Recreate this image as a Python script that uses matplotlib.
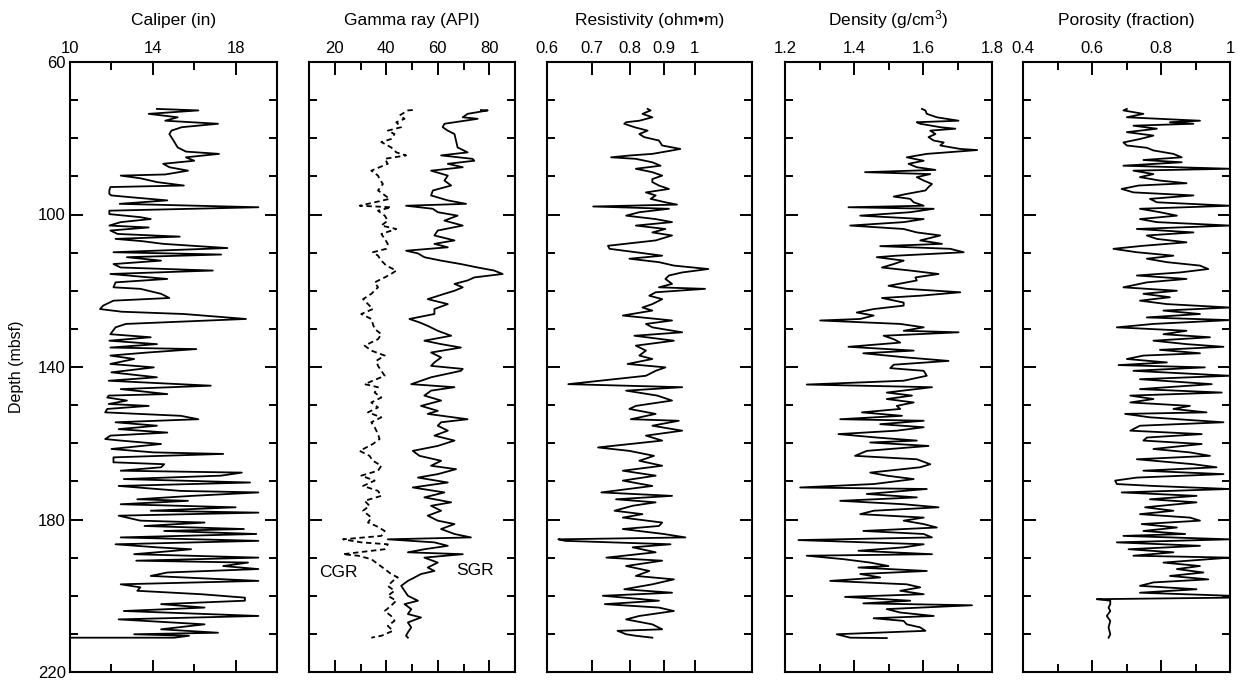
import matplotlib
matplotlib.use("Agg")
import matplotlib.pyplot as plt
from matplotlib.ticker import FixedLocator, NullLocator, FixedFormatter

plt.rcParams["font.family"] = ["Liberation Sans", "DejaVu Sans"]
plt.rcParams["mathtext.fontset"] = "custom"
plt.rcParams["mathtext.rm"] = "Liberation Sans"
plt.rcParams["mathtext.it"] = "Liberation Sans:italic"

# ---------------- data (depth in mbsf) ----------------
cal_depth = [72.3, 72.7, 73.6, 74.5, 75.4, 76.2, 77.1, 78.0, 78.9, 80.6, 82.4, 83.5, 84.1, 85.0, 85.9,
             86.7, 87.6, 88.5, 89.5, 89.8, 90.5, 91.5, 92.4, 92.8, 93.7, 94.6, 95.0, 95.5, 96.3, 97.2,
             98.1, 99.0, 99.9, 100.7, 101.2, 102.0, 102.9, 103.4, 104.2, 105.1, 105.8, 106.4, 107.0,
             107.7, 108.8, 109.9, 110.5, 111.2, 112.1, 113.0, 113.9, 114.7, 115.6, 116.9, 117.8, 119.1,
             119.5, 120.8, 121.9, 122.6, 123.9, 124.8, 125.5, 126.1, 127.4, 128.7, 129.6, 131.4, 132.2,
             133.1, 134.0, 134.9, 135.3, 136.2, 137.0, 137.9, 139.2, 140.1, 141.4, 142.7, 143.6, 144.9,
             145.8, 147.1, 147.5, 148.0, 148.8, 149.7, 150.2, 151.0, 151.9, 152.8, 153.7, 154.5, 155.4,
             156.3, 157.2, 158.0, 158.9, 159.3, 160.2, 161.5, 162.4, 162.8, 163.7, 165.0, 165.5, 166.3,
             167.2, 167.7, 168.5, 169.4, 170.3, 171.2, 172.5, 172.9, 173.8, 174.7, 175.1, 176.0, 176.8,
             177.7, 178.2, 179.0, 179.5, 180.3, 180.8, 181.7, 182.5, 183.0, 183.8, 184.7, 185.6, 186.5,
             187.3, 187.8, 188.2, 189.1, 190.0, 190.8, 191.3, 192.2, 193.0, 193.9, 194.8, 196.1, 197.0,
             197.8, 198.7, 199.6, 200.5, 201.3, 202.2, 203.1, 204.0, 205.3, 206.2, 207.5, 208.8, 209.7,
             210.1, 210.5, 211.0, 211.0]
cal_in = [14.2, 16.2, 13.8, 15.2, 14.6, 17.15, 15.4, 14.9, 14.8, 15.0, 15.2, 15.6, 17.2, 15.6, 16.0,
          14.5, 14.8, 15.7, 14.6, 12.45, 13.4, 14.2, 15.5, 11.95, 11.9, 11.9, 12.0, 13.0, 14.7, 12.4,
          19.1, 11.9, 11.9, 13.4, 13.9, 12.45, 11.9, 13.8, 11.95, 12.3, 15.3, 12.2, 13.5,
          14.5, 17.6, 12.1, 17.3, 12.75, 14.4, 12.1, 12.45, 16.9, 11.95, 14.7, 12.2, 12.1,
          13.4, 14.4, 14.8, 12.1, 11.6, 11.45, 12.5, 15.5, 18.5, 12.7, 12.2, 11.95, 13.9,
          11.9, 14.2, 11.95, 16.1, 13.75, 11.95, 13.1, 11.95, 14.05, 12.0, 14.2, 11.87, 16.8,
          12.45, 14.7, 11.87, 11.8, 12.75, 11.87, 13.8, 11.8, 11.7, 15.35, 16.2, 12.2, 14.2,
          12.35, 14.7, 11.95, 11.7, 12.45, 14.4, 12.0, 14.05, 17.4, 12.1, 12.1, 14.55, 14.4,
          12.45, 18.3, 17.3, 12.6, 18.7, 12.35, 15.35, 19.1, 15.9, 13.25, 15.7, 12.45, 18.0,
          13.9, 19.1, 12.35, 12.75, 13.4, 16.5, 13.6, 18.4, 14.55, 19.0, 12.45, 19.1, 12.2,
          14.2, 15.85, 15.05, 13.1, 19.1, 13.2, 18.6, 17.4, 19.1, 14.7, 13.9, 19.1, 12.45,
          13.4, 13.25, 16.35, 18.45, 18.45, 14.4, 16.5, 12.6, 19.1, 12.35, 16.5, 14.4, 17.15,
          13.1, 15.75, 15.05, 9.0]

sgr_depth = [72.6, 72.7, 73.6, 74.5, 74.9, 76.2, 77.1, 78.0, 78.9, 80.6, 82.4, 83.7, 84.5, 85.4, 85.9,
             86.7, 87.6, 88.5, 89.8, 91.1, 92.4, 93.7, 95.0, 96.3, 97.2, 97.7, 98.5, 99.4, 100.3, 101.6,
             102.9, 104.2, 105.5, 106.8, 107.7, 108.6, 109.5, 110.2, 111.2, 112.1, 113.0, 113.9, 114.7,
             115.6, 116.5, 117.3, 118.2, 119.1, 120.0, 120.8, 122.2, 123.5, 124.8, 126.1, 127.4, 128.3,
             129.2, 130.5, 131.8, 133.1, 134.0, 134.9, 136.2, 137.5, 138.8, 139.7, 140.5, 141.0, 142.7,
             144.5, 145.3, 146.2, 147.5, 148.8, 150.2, 151.5, 152.3, 153.7, 154.5, 155.4, 156.7, 158.0,
             159.3, 160.7, 162.0, 163.3, 164.6, 165.9, 166.8, 168.1, 169.0, 170.3, 171.6, 172.9, 174.2,
             175.5, 176.4, 177.7, 179.0, 180.3, 181.2, 182.5, 183.8, 184.7, 185.2, 186.0, 186.9, 187.8,
             188.6, 189.1, 190.0, 191.3, 192.6, 193.5, 194.3, 195.2, 196.1, 197.4, 198.7, 200.0, 201.3,
             202.2, 203.5, 204.8, 205.7, 207.0, 208.3, 209.6, 210.5, 211.0]
sgr_api = [76.8, 79.4, 71.6, 69.7, 75.5, 62.6, 61.9, 63.9, 66.5, 67.1, 67.7, 71.6, 61.3, 73.5, 74.2,
           63.9, 69.7, 57.4, 63.9, 62.6, 65.2, 58.1, 57.4, 63.9, 71.0, 47.7, 58.1, 60.0, 67.7, 62.6,
           69.7, 60.0, 58.7, 66.5, 58.7, 63.9, 47.7, 52.3, 54.8, 61.3, 69.0, 75.5, 81.9,
           85.2, 74.2, 71.6, 66.5, 69.7, 66.5, 62.6, 56.1, 63.9, 58.7, 58.7, 49.0, 52.9,
           56.1, 60.0, 65.2, 54.8, 61.3, 69.0, 57.4, 61.3, 58.7, 57.4, 69.7, 69.0, 57.4,
           49.7, 66.5, 57.4, 54.8, 61.3, 53.5, 60.0, 56.1, 71.6, 61.3, 60.0, 63.9, 58.7,
           66.5, 60.0, 50.3, 52.9, 61.3, 57.4, 67.1, 60.0, 52.3, 63.9, 50.3, 62.6, 54.8,
           65.2, 57.4, 61.3, 56.1, 60.0, 66.5, 61.3, 66.5, 72.9, 40.6, 58.7, 63.9, 54.8,
           48.4, 69.7, 54.8, 60.0, 56.1, 58.7, 53.5, 51.0, 48.4, 45.8, 47.1, 48.4, 52.3,
           47.1, 49.7, 48.4, 53.5, 48.4, 49.7, 48.4, 47.7, 48.4]

cgr_depth = [72.6, 72.7, 74.0, 74.9, 75.8, 77.1, 78.0, 78.9, 80.2, 81.0, 82.4, 83.7, 84.5, 85.4, 86.7,
             88.5, 89.8, 90.7, 92.0, 93.7, 94.6, 95.9, 97.7, 98.1, 99.0, 100.3, 101.6, 102.9, 103.8,
             105.1, 106.4, 107.7, 109.0, 109.9, 110.8, 112.1, 113.4, 114.7, 115.6, 116.5, 117.8, 119.1,
             120.8, 122.2, 123.5, 124.8, 126.1, 127.4, 128.7, 130.0, 131.4, 132.7, 134.4, 135.7, 137.0,
             138.4, 139.7, 141.0, 142.3, 144.5, 145.3, 146.7, 148.0, 149.3, 150.6, 151.9, 153.2, 154.5,
             155.8, 157.6, 158.9, 160.2, 162.0, 163.3, 164.6, 165.9, 167.2, 168.5, 169.8, 171.2, 172.5,
             173.8, 175.1, 176.4, 177.7, 179.5, 180.8, 181.7, 183.0, 184.3, 185.2, 186.0, 186.5, 187.8,
             189.1, 189.5, 190.4, 191.7, 193.0, 194.3, 195.2, 196.1, 197.4, 198.7, 200.0, 201.3, 202.6,
             204.0, 205.3, 206.6, 207.9, 209.2, 210.5, 211.0]
cgr_api = [50.3, 48.4, 45.2, 47.1, 43.9, 45.8, 40.6, 43.2, 41.9, 38.1, 41.9, 43.9, 47.7, 39.4, 40.6,
           34.2, 36.8, 37.4, 38.7, 36.8, 38.7, 41.3, 29.7, 41.9, 36.8, 39.4, 40.6, 38.1, 43.9,
           38.1, 39.4, 40.6, 40.0, 34.8, 36.8, 38.1, 40.0, 43.9, 41.9, 39.4, 35.5, 36.8,
           34.2, 31.0, 32.9, 34.8, 30.3, 34.2, 34.8, 35.5, 38.1, 36.8, 31.6, 34.2, 39.4,
           36.1, 36.8, 38.1, 39.4, 31.6, 36.8, 35.5, 38.1, 34.2, 36.8, 32.9, 38.1, 34.2,
           35.5, 36.8, 37.4, 34.8, 29.7, 33.5, 34.8, 38.1, 36.8, 30.3, 35.5, 31.0, 36.8,
           38.1, 31.6, 33.5, 31.0, 34.2, 32.9, 36.1, 39.4, 38.1, 23.2, 30.3, 40.6, 39.4,
           23.2, 29.0, 34.2, 36.8, 39.4, 41.9, 44.5, 42.6, 40.6, 43.2, 40.6, 43.9, 41.9,
           39.4, 41.9, 43.2, 40.6, 42.6, 38.1, 34.2]

res_depth = [72.3, 72.7, 73.6, 74.5, 75.4, 75.8, 76.2, 77.1, 78.0, 78.9, 79.7, 80.6, 81.9, 82.8, 83.2,
             84.1, 84.5, 85.0, 85.4, 86.3, 87.2, 88.0, 88.9, 89.8, 90.7, 91.5, 92.4, 93.3, 94.2, 95.0,
             95.9, 96.8, 97.4, 97.9, 98.5, 99.4, 100.3, 101.2, 102.0, 102.9, 103.8, 104.7, 105.5, 106.8,
             108.2, 109.0, 109.9, 110.8, 111.6, 112.5, 113.4, 114.3, 115.2, 116.0, 116.9, 118.2, 119.1,
             119.5, 120.4, 121.3, 122.2, 123.5, 124.4, 125.2, 126.5, 127.8, 128.7, 129.6, 130.9, 131.8,
             133.1, 134.4, 135.7, 137.0, 137.9, 139.2, 140.1, 141.0, 142.3, 144.5, 145.3, 146.2, 147.5,
             148.8, 150.2, 151.0, 152.3, 153.7, 154.1, 155.4, 156.7, 158.0, 159.3, 161.1, 162.0, 163.3,
             164.6, 165.9, 167.2, 168.5, 169.8, 171.2, 172.9, 173.8, 174.7, 175.5, 176.4, 177.7, 178.6,
             179.5, 180.8, 181.7, 182.5, 183.8, 184.7, 185.2, 185.6, 186.5, 187.3, 188.6, 190.0, 190.8,
             192.2, 193.5, 194.8, 195.7, 197.0, 198.3, 199.2, 200.0, 201.3, 202.2, 203.1, 204.0, 205.3,
             206.2, 207.5, 208.8, 209.2, 210.1, 210.5, 211.0]
res_ohmm = [0.850, 0.859, 0.835, 0.864, 0.826, 0.789, 0.784, 0.812, 0.850, 0.826, 0.840, 0.884, 0.894,
            0.952, 0.925, 0.864, 0.802, 0.749, 0.816, 0.864, 0.889, 0.816, 0.864, 0.894, 0.864, 0.864,
            0.884, 0.915, 0.845, 0.874, 0.859, 0.904, 0.941, 0.704, 0.915, 0.826, 0.789, 0.874, 0.925,
            0.816, 0.904, 0.864, 0.925, 0.874, 0.741, 0.745, 0.816, 0.894, 0.798, 0.884, 0.931, 1.049,
            0.958, 0.915, 0.904, 0.925, 0.884, 1.037, 0.874, 0.855, 0.894, 0.864, 0.835, 0.864, 0.780,
            0.925, 0.845, 0.864, 0.958, 0.812, 0.931, 0.816, 0.845, 0.826, 0.864, 0.793, 0.904, 0.874,
            0.845, 0.646, 0.958, 0.789, 0.879, 0.925, 0.816, 0.798, 0.874, 0.802, 0.947, 0.864, 0.958,
            0.845, 0.894, 0.716, 0.798, 0.869, 0.826, 0.894, 0.780, 0.874, 0.780, 0.864, 0.724, 0.925,
            0.762, 0.874, 0.807, 0.758, 0.835, 0.780, 0.894, 0.884, 0.780, 0.899, 0.969, 0.624, 0.639,
            0.920, 0.807, 0.874, 0.737, 0.894, 0.789, 0.855, 0.816, 0.931, 0.864, 0.784, 0.925, 0.728,
            0.884, 0.733, 0.884, 0.931, 0.826, 0.789, 0.864, 0.894, 0.766, 0.789, 0.816, 0.864]

den_depth = [72.3, 72.7, 73.6, 74.5, 75.4, 75.8, 76.2, 77.1, 77.5, 78.0, 78.9, 79.7, 80.6, 81.1, 81.9,
             82.8, 83.1, 84.1, 85.0, 85.9, 86.7, 87.6, 88.3, 88.9, 89.4, 90.2, 91.1, 92.0, 92.8, 93.7,
             94.6, 95.3, 95.9, 96.8, 97.7, 98.1, 98.5, 99.4, 100.3, 101.2, 102.0, 102.9, 103.8, 104.7,
             105.5, 106.8, 107.7, 108.3, 109.0, 109.9, 110.8, 111.2, 112.1, 113.0, 113.9, 114.7, 115.6,
             116.5, 117.3, 118.7, 119.5, 120.4, 121.3, 121.9, 123.1, 123.9, 124.8, 125.7, 126.5, 127.4,
             127.8, 128.7, 129.6, 130.5, 130.9, 131.8, 132.7, 133.6, 134.7, 135.7, 136.4, 137.5, 138.4,
             139.4, 140.3, 141.0, 142.3, 143.6, 144.6, 145.3, 146.7, 147.5, 148.4, 149.3, 150.2, 151.0,
             151.9, 152.8, 153.7, 154.1, 155.0, 155.8, 156.7, 157.6, 158.5, 159.3, 159.8, 160.7, 162.0,
             163.3, 164.2, 165.5, 166.3, 167.7, 168.5, 169.4, 170.7, 171.6, 172.0, 173.3, 174.2, 175.1,
             176.0, 176.8, 177.7, 178.6, 179.5, 180.3, 181.2, 182.1, 183.0, 183.8, 184.7, 185.4, 186.5,
             187.3, 188.2, 189.1, 189.5, 190.4, 191.3, 192.2, 192.6, 193.5, 194.3, 195.2, 196.1, 197.0,
             197.8, 198.7, 199.6, 200.3, 201.3, 202.0, 202.5, 203.5, 204.4, 205.3, 205.9, 206.6, 207.5,
             208.3, 209.2, 210.1, 211.0, 211.1]
den_gcc = [1.597, 1.607, 1.611, 1.640, 1.703, 1.582, 1.592, 1.650, 1.694, 1.621, 1.636, 1.616, 1.631,
           1.660, 1.650, 1.708, 1.757, 1.611, 1.553, 1.602, 1.558, 1.582, 1.636, 1.432, 1.621, 1.582,
           1.602, 1.626, 1.616, 1.607, 1.553, 1.515, 1.563, 1.573, 1.602, 1.384, 1.631, 1.563, 1.418,
           1.602, 1.544, 1.389, 1.544, 1.582, 1.650, 1.592, 1.655, 1.476, 1.679, 1.718, 1.524, 1.466,
           1.544, 1.515, 1.481, 1.563, 1.645, 1.578, 1.582, 1.500, 1.553, 1.708, 1.592, 1.481, 1.544,
           1.544, 1.457, 1.408, 1.457, 1.418, 1.302, 1.534, 1.602, 1.544, 1.703, 1.486, 1.515, 1.534,
           1.384, 1.573, 1.427, 1.553, 1.674, 1.515, 1.505, 1.602, 1.611, 1.544, 1.263, 1.626, 1.495,
           1.568, 1.495, 1.573, 1.524, 1.534, 1.423, 1.539, 1.360, 1.602, 1.476, 1.602, 1.524, 1.355,
           1.466, 1.582, 1.447, 1.616, 1.437, 1.403, 1.582, 1.621, 1.592, 1.447, 1.495, 1.573, 1.457,
           1.244, 1.611, 1.437, 1.582, 1.360, 1.544, 1.645, 1.457, 1.418, 1.602, 1.544, 1.602, 1.640,
           1.427, 1.602, 1.626, 1.239, 1.602, 1.544, 1.413, 1.626, 1.263, 1.369, 1.447, 1.500, 1.413,
           1.611, 1.418, 1.476, 1.331, 1.553, 1.592, 1.534, 1.602, 1.374, 1.563, 1.427, 1.742, 1.495,
           1.534, 1.631, 1.457, 1.544, 1.553, 1.592, 1.607, 1.350, 1.389, 1.495]

por_depth = [72.3, 72.7, 73.6, 74.5, 75.4, 75.8, 76.2, 76.7, 77.5, 78.4, 79.3, 80.2, 81.1, 81.9, 82.5,
             83.2, 84.1, 85.0, 85.7, 86.3, 87.2, 88.0, 88.5, 89.4, 90.2, 91.1, 91.8, 92.4, 93.3, 94.2,
             95.0, 95.9, 96.8, 97.7, 98.5, 99.4, 100.3, 101.2, 102.0, 102.9, 103.8, 104.7, 105.5, 106.4,
             107.3, 108.2, 109.0, 109.9, 110.8, 111.6, 112.5, 113.4, 114.3, 115.2, 116.0, 116.9, 117.8,
             119.1, 120.0, 120.8, 121.7, 122.6, 123.5, 124.4, 125.2, 126.1, 127.0, 127.7, 128.7, 129.6,
             130.5, 131.4, 132.2, 133.1, 134.0, 134.7, 135.5, 136.4, 137.0, 137.9, 138.8, 139.5, 140.1,
             141.0, 142.3, 143.2, 144.5, 145.8, 146.7, 147.5, 148.4, 149.3, 150.2, 151.0, 151.9, 152.3,
             153.2, 154.5, 155.4, 156.7, 157.6, 158.5, 159.3, 160.2, 161.5, 162.4, 163.3, 164.2, 165.5,
             166.3, 167.2, 168.1, 169.0, 169.8, 170.7, 171.2, 172.0, 172.9, 173.8, 174.7, 175.5, 176.8,
             177.7, 178.6, 179.5, 180.3, 181.2, 182.1, 183.0, 183.8, 184.3, 185.2, 186.0, 186.9, 187.8,
             188.6, 189.5, 190.0, 191.3, 192.2, 193.0, 193.9, 194.8, 195.7, 196.5, 197.4, 198.3, 199.2,
             200.0, 200.5, 200.9, 201.3, 202.2, 203.1, 204.0, 205.3, 206.6, 208.3, 210.1, 211.0]
por_frac = [0.701, 0.691, 0.749, 0.701, 0.913, 0.826, 0.894, 0.720, 0.788, 0.701, 0.778, 0.739, 0.691,
            0.701, 0.759, 0.778, 0.836, 0.860, 0.749, 0.860, 0.691, 1.0, 0.720, 0.778, 0.739, 0.797,
            0.874, 0.735, 0.686, 0.720, 0.894, 0.768, 0.788, 1.0, 0.739, 0.797, 0.846, 0.739, 0.788,
            1.0, 0.730, 0.894, 0.759, 0.788, 0.874, 0.749, 0.662, 0.730, 0.836, 0.759, 0.817, 0.913,
            0.937, 0.855, 0.730, 0.874, 0.759, 0.691, 0.846, 0.749, 0.826, 0.739, 0.817, 1.0, 0.807,
            0.913, 0.759, 1.0, 0.778, 0.672, 0.874, 0.807, 0.942, 0.778, 0.874, 0.981, 0.797, 0.913,
            0.749, 0.701, 0.817, 0.677, 0.927, 0.720, 1.0, 0.739, 0.947, 0.739, 0.976, 0.711, 0.778,
            0.711, 0.884, 0.836, 0.932, 0.696, 0.768, 0.981, 0.739, 0.711, 0.918, 0.759, 0.749, 0.918,
            0.778, 0.884, 0.942, 0.730, 0.894, 0.961, 0.749, 0.981, 0.730, 0.667, 0.672, 0.778, 1.0,
            0.686, 0.903, 0.768, 0.903, 0.754, 0.836, 0.739, 0.884, 0.913, 0.744, 0.846, 0.749, 0.870,
            0.691, 1.0, 0.672, 0.913, 0.706, 0.836, 0.720, 1.0, 0.807, 0.913, 0.846, 0.923, 0.826,
            0.937, 0.778, 0.739, 0.903, 0.739, 1.0, 1.0, 0.614, 0.653, 0.653, 0.648, 0.653, 0.643,
            0.653, 0.648, 0.653, 0.648]

titles = ["Caliper (in)", "Gamma ray (API)", "Resistivity (ohm\u2022m)",
          r"Density (g/cm$^{3}$)", "Porosity (fraction)"]
depth_ticks = [60, 100, 140, 180, 220]

# ---------------- figure ----------------
W, H = 1241, 682
fig = plt.figure(figsize=(W / 100, H / 100), dpi=100)
top_px, bot_px = 62, 672
lefts = [70, 309, 547, 785, 1023]
widths = [207, 206, 205, 207, 207]

axes = []
for l, w in zip(lefts, widths):
    ax = fig.add_axes([l / W, 1 - bot_px / H, w / W, (bot_px - top_px) / H])
    axes.append(ax)

lw_line = 1.3
ax_cal, ax_gr, ax_res, ax_den, ax_por = axes

ax_cal.plot(cal_in, cal_depth, color="black", lw=lw_line)
ax_gr.plot(sgr_api, sgr_depth, color="black", lw=lw_line)
ax_gr.plot(cgr_api, cgr_depth, color="black", lw=lw_line, linestyle=(0, (3, 2)))
ax_res.plot(res_ohmm, res_depth, color="black", lw=lw_line)
ax_den.plot(den_gcc, den_depth, color="black", lw=lw_line)
ax_por.plot(por_frac, por_depth, color="black", lw=lw_line)

ax_gr.text(21.5, 194, "CGR", fontsize=12.5, ha="center", va="center")
ax_gr.text(74.5, 193.5, "SGR", fontsize=12.5, ha="center", va="center")

# x-axis settings
ax_cal.set_xlim(10, 20)
ax_cal.xaxis.set_major_locator(FixedLocator([10, 14, 18]))
ax_cal.xaxis.set_minor_locator(FixedLocator([12, 16]))
ax_cal.xaxis.set_major_formatter(FixedFormatter(["10", "14", "18"]))

ax_gr.set_xlim(10, 90)
ax_gr.xaxis.set_major_locator(FixedLocator([20, 40, 60, 80]))
ax_gr.xaxis.set_minor_locator(FixedLocator([30, 50, 70]))
ax_gr.xaxis.set_major_formatter(FixedFormatter(["20", "40", "60", "80"]))

ax_res.set_xscale("log")
ax_res.set_xlim(0.6, 1.22)
ax_res.xaxis.set_major_locator(FixedLocator([0.6, 0.7, 0.8, 0.9, 1.0]))
ax_res.xaxis.set_minor_locator(NullLocator())
ax_res.xaxis.set_major_formatter(FixedFormatter(["0.6", "0.7", "0.8", "0.9", "1"]))

ax_den.set_xlim(1.2, 1.8)
ax_den.xaxis.set_major_locator(FixedLocator([1.2, 1.4, 1.6, 1.8]))
ax_den.xaxis.set_minor_locator(FixedLocator([1.3, 1.5, 1.7]))
ax_den.xaxis.set_major_formatter(FixedFormatter(["1.2", "1.4", "1.6", "1.8"]))

ax_por.set_xlim(0.4, 1.0)
ax_por.xaxis.set_major_locator(FixedLocator([0.4, 0.6, 0.8, 1.0]))
ax_por.xaxis.set_minor_locator(FixedLocator([0.5, 0.7, 0.9]))
ax_por.xaxis.set_major_formatter(FixedFormatter(["0.4", "0.6", "0.8", "1"]))

for i, ax in enumerate(axes):
    ax.set_ylim(220, 60)
    ax.yaxis.set_major_locator(FixedLocator(depth_ticks))
    ax.yaxis.set_minor_locator(FixedLocator(list(range(70, 220, 10))))
    for s in ax.spines.values():
        s.set_linewidth(1.5)
    ax.tick_params(axis="both", which="both", direction="in", top=True, bottom=True,
                   left=True, right=True, labeltop=True, labelbottom=False,
                   labelsize=12, width=1.4, pad=4)
    ax.tick_params(axis="both", which="major", length=9)
    ax.tick_params(axis="both", which="minor", length=5.5)
    ax.tick_params(axis="y", labelleft=(i == 0), labelright=False, pad=3)
    ax.text(0.5, 1 + 42 / (bot_px - top_px), titles[i], transform=ax.transAxes,
            ha="center", va="center", fontsize=12.5)

ax_cal.set_ylabel("Depth (mbsf)", fontsize=11.5, labelpad=10)

fig.savefig("out.png", dpi=100)
